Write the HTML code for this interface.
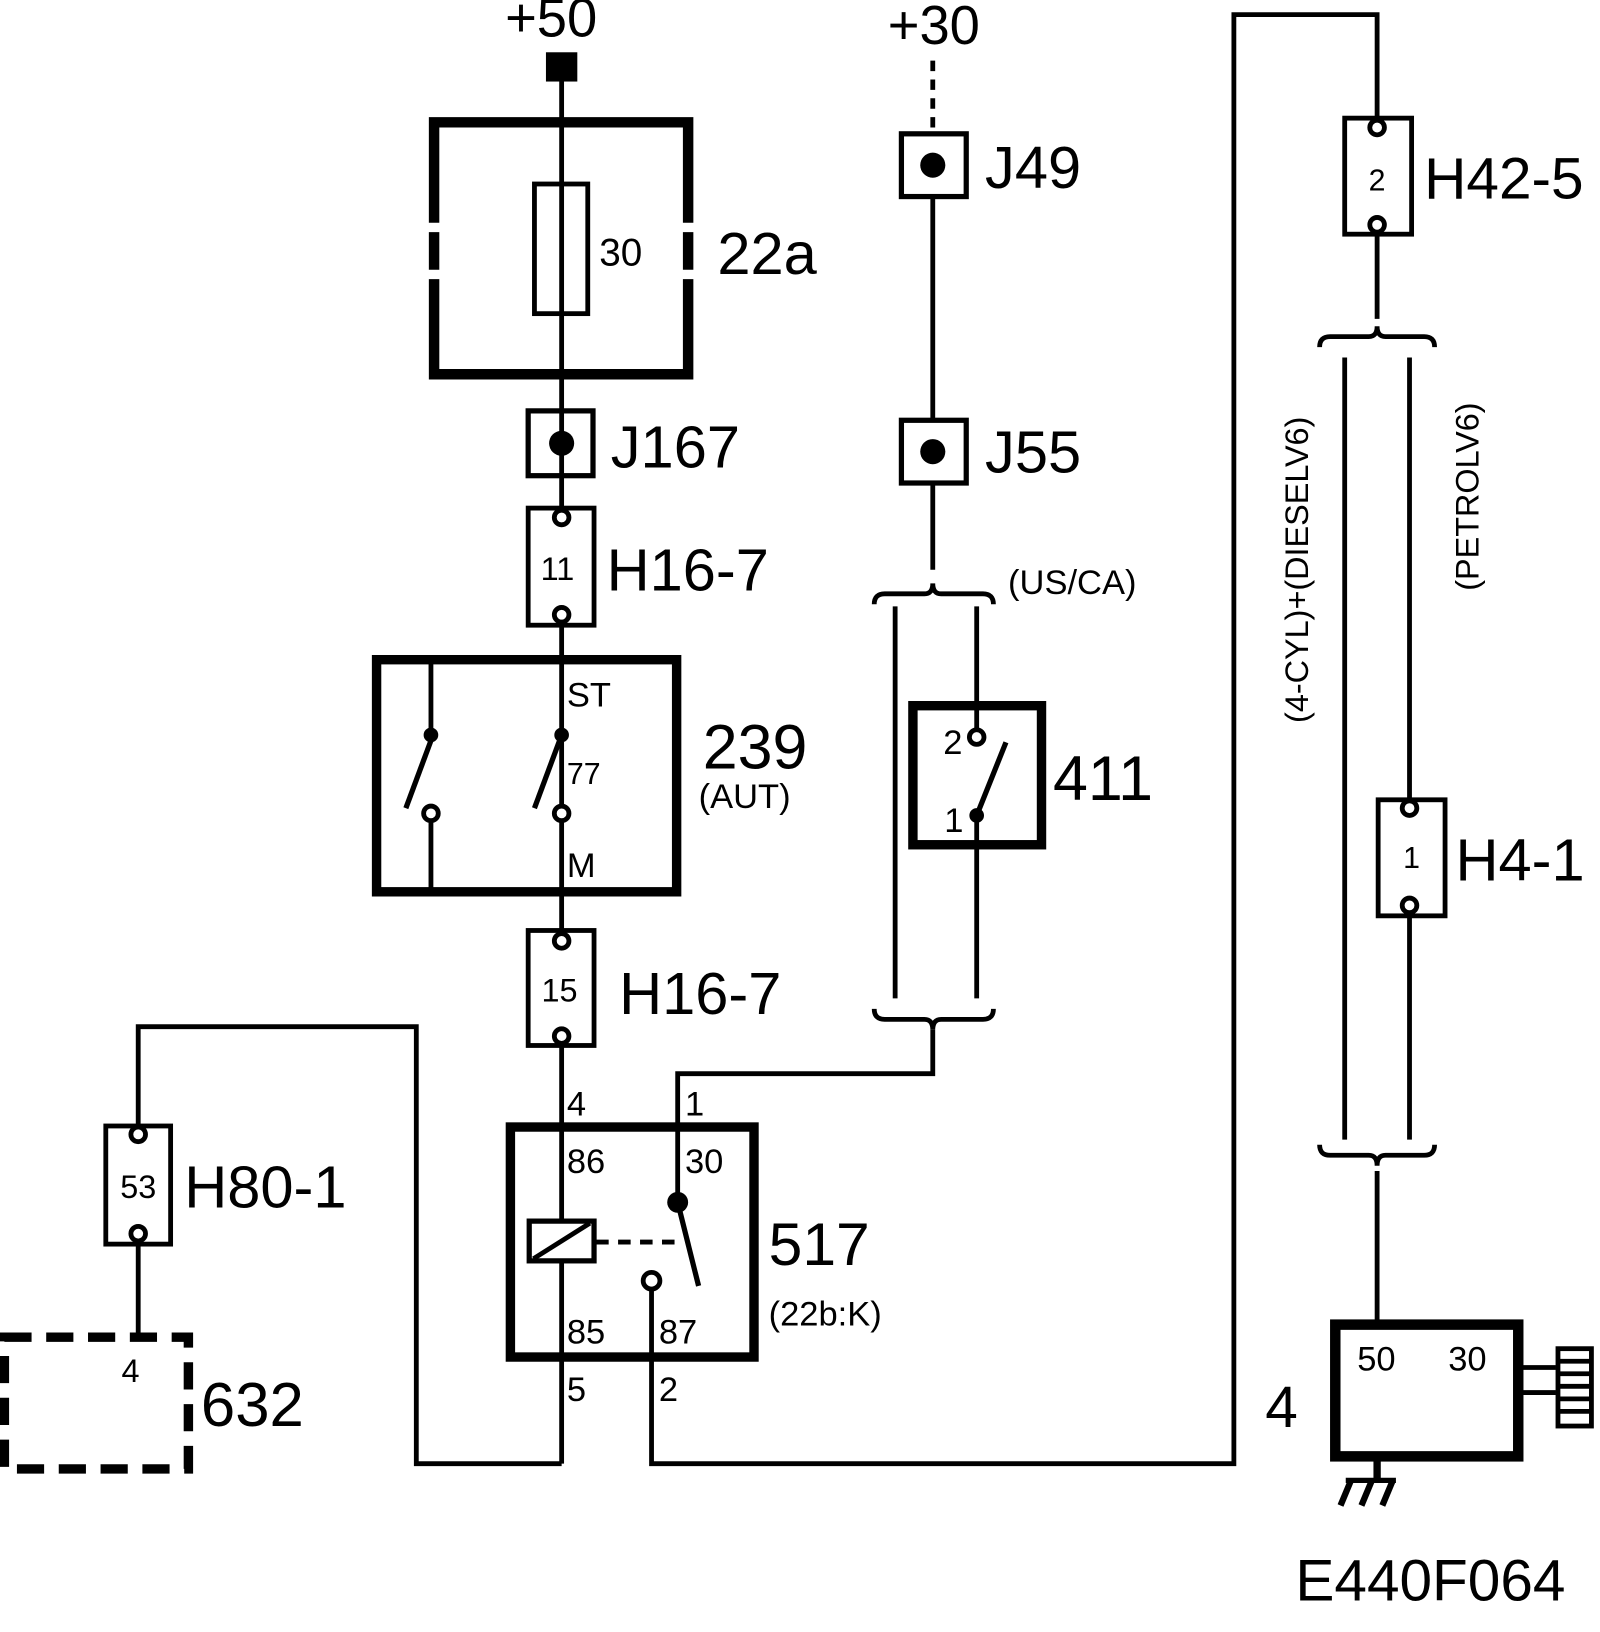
<!DOCTYPE html>
<html><head><meta charset="utf-8"><style>html,body{margin:0;padding:0;background:#fff}svg{display:block}text{font-family:"Liberation Sans",sans-serif;fill:#000}</style></head><body>
<svg width="1600" height="1632" viewBox="0 0 1530 1561" xmlns="http://www.w3.org/2000/svg">
<g fill="none" stroke="#000" stroke-width="4.6">
<line x1="537" y1="70" x2="537" y2="1400"/>
<polyline points="537,1400 398,1400 398,982 132,982 132,1077"/>
<line x1="132" y1="1190" x2="132" y2="1277"/>
<polyline points="648,1150 648,1027 892,1027 892,985"/>
<polyline points="623,1232 623,1400 1180,1400 1180,14 1317,14 1317,113"/>
<line x1="1317" y1="224" x2="1317" y2="305"/>
<line x1="1286" y1="342" x2="1286" y2="1090"/>
<line x1="1348" y1="342" x2="1348" y2="765"/>
<line x1="1348" y1="876" x2="1348" y2="1090"/>
<line x1="1317" y1="1120" x2="1317" y2="1267"/>
<line x1="892" y1="58" x2="892" y2="126" stroke-dasharray="10,8"/>
<line x1="892" y1="188" x2="892" y2="402"/>
<line x1="892" y1="462" x2="892" y2="545"/>
<line x1="856" y1="580" x2="856" y2="955"/>
<line x1="934" y1="580" x2="934" y2="698"/>
<line x1="934" y1="780" x2="934" y2="955"/>
<path d="M836,578 Q836,568 846,568 L884,568 Q892,568 892,558 Q892,568 900,568 L940,568 Q950,568 950,578"/>
<path d="M836,965 Q836,975 846,975 L884,975 Q892,975 892,985 Q892,975 900,975 L940,975 Q950,975 950,965"/>
<path d="M1262,332 Q1262,322 1272,322 L1309,322 Q1317,322 1317,312 Q1317,322 1325,322 L1362,322 Q1372,322 1372,332"/>
<path d="M1262,1095 Q1262,1105 1272,1105 L1309,1105 Q1317,1105 1317,1115 Q1317,1105 1325,1105 L1362,1105 Q1372,1105 1372,1095"/>
<g stroke-width="10">
<polyline points="415,213 415,117 658,117 658,213"/>
<polyline points="415,267 415,358 658,358 658,267"/>
<line x1="415" y1="222" x2="415" y2="258"/>
<line x1="658" y1="222" x2="658" y2="258"/>
</g>
<rect x="511" y="176" width="51" height="124"/>
<rect x="505" y="393" width="62" height="62" stroke-width="5"/>
<rect x="862" y="128" width="62" height="60" stroke-width="5"/>
<rect x="862" y="402" width="62" height="60" stroke-width="5"/>
<rect x="505" y="486" width="63" height="112" fill="#fff"/>
<rect x="505" y="890" width="63" height="110" fill="#fff"/>
<rect x="101" y="1077" width="62" height="113" fill="#fff"/>
<rect x="1286" y="113" width="64" height="111" fill="#fff"/>
<rect x="1318" y="765" width="64" height="111" fill="#fff"/>
<g fill="#fff">
<circle cx="537" cy="495" r="7"/><circle cx="537" cy="588" r="7"/>
<circle cx="537" cy="900" r="7"/><circle cx="537" cy="991" r="7"/>
<circle cx="132" cy="1085" r="7"/><circle cx="132" cy="1180" r="7"/>
<circle cx="1317" cy="122" r="7"/><circle cx="1317" cy="215" r="7"/>
<circle cx="1348" cy="773" r="7"/><circle cx="1348" cy="866" r="7"/>
</g>
<rect x="360" y="631" width="287" height="222" stroke-width="9"/>
<line x1="412" y1="631" x2="412" y2="703"/>
<line x1="414" y1="703" x2="388" y2="773" stroke-width="5"/>
<line x1="412" y1="785" x2="412" y2="853"/>
<line x1="537" y1="703" x2="511" y2="773" stroke-width="5"/>
<circle cx="412" cy="778" r="7" fill="#fff"/>
<circle cx="537" cy="778" r="7" fill="#fff"/>
<rect x="873" y="675" width="123" height="133" stroke-width="9"/>
<line x1="934" y1="780" x2="962" y2="710" stroke-width="5"/>
<circle cx="934" cy="705" r="7" fill="#fff"/>
<rect x="488" y="1078" width="233" height="220" stroke-width="9"/>
<rect x="506" y="1168" width="62" height="38" stroke-width="5" fill="#fff"/>
<line x1="510" y1="1204" x2="564" y2="1170"/>
<line x1="570" y1="1188" x2="652" y2="1188" stroke-dasharray="12,9"/>
<line x1="648" y1="1150" x2="668" y2="1230" stroke-width="5"/>
<circle cx="623" cy="1225" r="8" fill="#fff"/>
<rect x="4" y="1279" width="176" height="126" stroke-width="9" stroke-dasharray="26,14"/>
<rect x="1277" y="1267" width="175" height="126" stroke-width="10"/>
<line x1="1452" y1="1308" x2="1488" y2="1308"/>
<line x1="1452" y1="1332" x2="1488" y2="1332"/>
<rect x="1490" y="1290" width="32" height="74"/>
<line x1="1490" y1="1302" x2="1522" y2="1302"/><line x1="1490" y1="1314" x2="1522" y2="1314"/><line x1="1490" y1="1326" x2="1522" y2="1326"/><line x1="1490" y1="1338" x2="1522" y2="1338"/><line x1="1490" y1="1350" x2="1522" y2="1350"/>
<line x1="1317" y1="1393" x2="1317" y2="1414" stroke-width="7"/>
<line x1="1287" y1="1416" x2="1335" y2="1416" stroke-width="5"/>
<g stroke-width="6"><line x1="1292" y1="1416" x2="1282" y2="1440"/><line x1="1312" y1="1416" x2="1302" y2="1440"/><line x1="1332" y1="1416" x2="1322" y2="1440"/></g>
</g>
<g fill="#000">
<rect x="522" y="50" width="30" height="28"/>
<circle cx="537" cy="424" r="12"/>
<circle cx="892" cy="158" r="12"/>
<circle cx="892" cy="432" r="12"/>
<circle cx="412" cy="703" r="7"/><circle cx="537" cy="703" r="7"/>
<circle cx="934" cy="780" r="7"/>
<circle cx="648" cy="1150" r="10"/>
</g>
<g font-size="52">
<text x="527" y="35" text-anchor="middle">+50</text>
<text x="893" y="42" text-anchor="middle">+30</text>
<text x="686" y="262" font-size="57">22a</text>
<text x="584" y="447" font-size="57">J167</text>
<text x="580" y="565" font-size="57">H16-7</text>
<text x="592" y="970" font-size="57">H16-7</text>
<text x="942" y="180" font-size="57">J49</text>
<text x="942" y="452" font-size="57">J55</text>
<text x="1362" y="190" font-size="56">H42-5</text>
<text x="1392" y="842" font-size="57">H4-1</text>
<text x="176" y="1155" font-size="57">H80-1</text>
<text x="192" y="1364" font-size="59">632</text>
<text x="672" y="735" font-size="60">239</text>
<text x="1007" y="765" font-size="60">411</text>
<text x="735" y="1210" font-size="58">517</text>
<text x="1210" y="1365" font-size="56">4</text>
<text x="1368" y="1531" text-anchor="middle" font-size="56">E440F064</text>
</g>
<g font-size="33">
<text x="573" y="254" font-size="37">30</text>
<text x="533" y="555" text-anchor="middle" font-size="31">11</text>
<text x="535" y="958" text-anchor="middle" font-size="31">15</text>
<text x="132" y="1146" text-anchor="middle" font-size="31">53</text>
<text x="1317" y="182" text-anchor="middle" font-size="29">2</text>
<text x="1350" y="830" text-anchor="middle" font-size="29">1</text>
<text x="542" y="676">ST</text>
<text x="542" y="750" font-size="29">77</text>
<text x="542" y="839">M</text>
<text x="668" y="773">(AUT)</text>
<text x="964" y="568">(US/CA)</text>
<text x="902" y="721">2</text>
<text x="903" y="796">1</text>
<text x="542" y="1067">4</text>
<text x="655" y="1067">1</text>
<text x="542" y="1122">86</text>
<text x="655" y="1122">30</text>
<text x="542" y="1285">85</text>
<text x="630" y="1285">87</text>
<text x="542" y="1340">5</text>
<text x="630" y="1340">2</text>
<text x="735" y="1268">(22b:K)</text>
<text x="116" y="1322" font-size="31">4</text>
<text x="1298" y="1311">50</text>
<text x="1385" y="1311">30</text>
<text transform="translate(1251,545) rotate(-90)" text-anchor="middle" font-size="31">(4-CYL)+(DIESELV6)</text>
<text transform="translate(1414,475) rotate(-90)" text-anchor="middle" font-size="31">(PETROLV6)</text>
</g>
</svg>
</body></html>
